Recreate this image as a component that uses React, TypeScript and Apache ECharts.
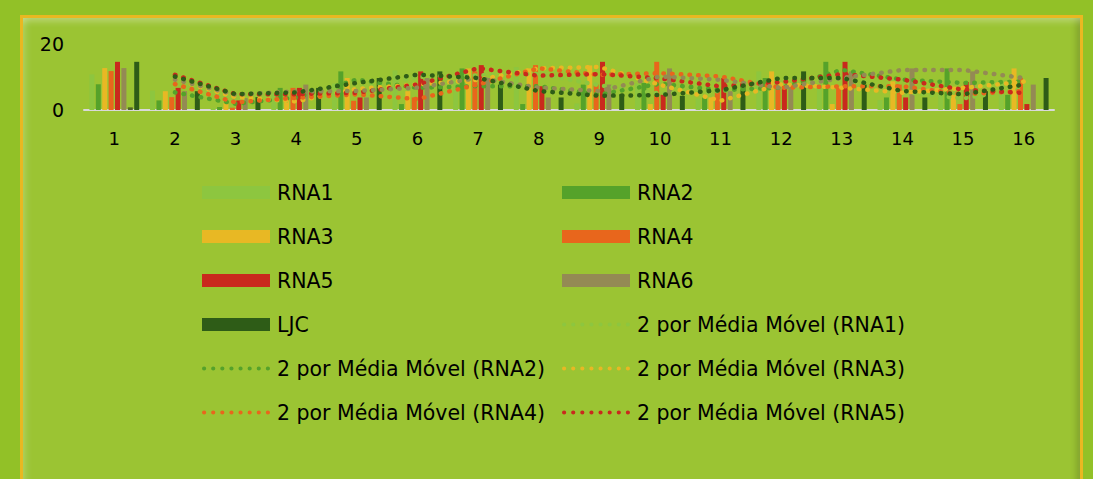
import React, { useEffect, useRef } from 'react';
import * as echarts from 'echarts';

const categories = ['1', '2', '3', '4', '5', '6', '7', '8', '9', '10', '11', '12', '13', '14', '15', '16'];
const rna1 = [10.8, 5.9, 0.5, 5.0, 8.0, 12.0, 9.0, 13.0, 2.0, 8.0, 3.5, 11.7, 8.0, 3.0, 4.0, 9.0];
const rna2 = [7.8, 2.9, 0.9, 6.7, 11.7, 1.8, 12.6, 1.8, 7.7, 8.2, 3.8, 9.7, 14.6, 3.8, 12.6, 4.6];
const rna3 = [12.7, 5.7, 2.1, 3.1, 9.7, 5.7, 12.6, 12.6, 13.5, 1.8, 3.8, 11.7, 1.8, 8.7, 4.6, 12.6];
const rna4 = [11.8, 3.9, 0.7, 6.7, 2.8, 3.8, 11.7, 13.6, 7.7, 14.6, 5.7, 7.7, 6.7, 7.7, 1.8, 9.7];
const rna5 = [14.6, 6.7, 2.9, 6.7, 3.8, 11.7, 13.6, 7.2, 14.6, 4.6, 9.7, 7.2, 14.6, 3.8, 8.5, 1.8];
const rna6 = [12.7, 5.7, 3.6, 7.7, 3.8, 9.7, 9.7, 3.8, 7.7, 12.6, 5.7, 7.7, 11.7, 12.6, 11.7, 7.7];
const rna7 = [0.8, 0, 0, 0, 0, 0, 0, 0, 0, 0, 0, 0, 0, 0, 0, 0];
const ljc = [14.6, 5.7, 3.9, 6.7, 9.7, 11.7, 7.7, 3.8, 4.8, 4.3, 7.7, 11.7, 7.7, 3.8, 5.7, 9.7];
const yTicks = [0, 20];

const barSeries = [
  { name: 'RNA1', data: rna1, color: '#8dc63f' },
  { name: 'RNA2', data: rna2, color: '#55a22a' },
  { name: 'RNA3', data: rna3, color: '#e8b824' },
  { name: 'RNA4', data: rna4, color: '#e8661c' },
  { name: 'RNA5', data: rna5, color: '#c9291d' },
  { name: 'RNA6', data: rna6, color: '#948a54' },
  { name: 'RNA7', data: rna7, color: '#4f6228' },
  { name: 'LJC', data: ljc, color: '#2e5c17' },
];
const maSources = ['RNA1', 'RNA2', 'RNA3', 'RNA4', 'RNA5', 'RNA6', 'LJC'];

// Excel "2 por Média Móvel" trendline (moving average, period 2)
function movingAverage2(arr: number[]) {
  return arr.map((v, i) => (i === 0 ? null : (arr[i - 1] + v) / 2));
}

// legend icon: a row of 8 round dots
function dotsIcon() {
  let d = '';
  for (let k = 0; k < 8; k++) {
    const cx = 2 + k * 8.7;
    d += `M${cx - 2},2a2,2 0 1,0 4,0a2,2 0 1,0 -4,0Z`;
  }
  return 'path://' + d;
}

const FONT = 'DejaVu Sans';
const ma = (n: string) => `2 por Média Móvel (${n})`;

export default function App() {
  const ref = useRef<HTMLDivElement>(null);
  useEffect(() => {
    const chart = echarts.init(ref.current!, null, { renderer: 'svg' });
    const series: any[] = barSeries.map((b) => ({
      name: b.name,
      type: 'bar',
      data: b.data,
      barWidth: 5,
      barGap: '28%',
      itemStyle: { color: b.color },
      z: 2,
    }));
    maSources.forEach((n) => {
      const b = barSeries.find((s) => s.name === n)!;
      series.push({
        name: ma(n),
        type: 'line',
        data: movingAverage2(b.data),
        symbol: 'none',
        showSymbol: false,
        z: 3,
        lineStyle: { color: b.color, width: 4.5, type: [0.5, 8.2], cap: 'round' },
        itemStyle: { color: b.color },
      });
    });
    const icon = dotsIcon();
    const legendBase = {
      orient: 'vertical',
      padding: 0,
      itemWidth: 68,
      itemHeight: 13,
      itemGap: 23,
      selectedMode: false,
      itemStyle: { borderWidth: 0 },
      lineStyle: { width: 0 },
      textStyle: { fontFamily: FONT, fontSize: 20.5, color: '#000', lineHeight: 20, padding: [0, 0, 0, 2] },
    };
    const item = (name: string) =>
      name.startsWith('2 por') ? { name, icon } : { name, icon: 'rect' };
    const option: any = {
      animation: false,
      textStyle: { fontFamily: FONT },
      grid: { left: 84, right: 39, top: 44, height: 66 },
      xAxis: {
        type: 'category',
        data: categories,
        axisLine: { show: true, lineStyle: { color: '#d9d9d9', width: 2 } },
        axisTick: { show: false },
        axisLabel: { fontFamily: FONT, fontSize: 18, color: '#000', margin: 19 },
      },
      yAxis: {
        type: 'value',
        min: yTicks[0],
        max: yTicks[1],
        interval: 20,
        axisLine: { show: false },
        axisTick: { show: false },
        splitLine: { show: false },
        axisLabel: { fontFamily: FONT, fontSize: 19, color: '#000', margin: 20 },
      },
      legend: [
        {
          ...legendBase,
          left: 202,
          top: 182,
          data: ['RNA1', 'RNA3', 'RNA5', 'LJC', ma('RNA2'), ma('RNA4')].map(item),
        },
        {
          ...legendBase,
          left: 562,
          top: 182,
          data: ['RNA2', 'RNA4', 'RNA6', ma('RNA1'), ma('RNA3'), ma('RNA5')].map(item),
        },
      ],
      series,
    };
    chart.setOption(option);
    return () => chart.dispose();
  }, []);

  return (
    <div style={{ position: 'fixed', left: 0, top: 0, width: 1093, height: 479, background: '#92c127', overflow: 'hidden' }}>
      <div
        style={{
          position: 'absolute',
          left: 20,
          top: 15,
          width: 1063,
          height: 490,
          boxSizing: 'border-box',
          border: '3px solid #e9b821',
          background: '#9bc433',
          boxShadow: 'inset 0 7px 7px -4px rgba(255,255,255,0.35), inset 7px 0 7px -4px rgba(255,255,255,0.2), inset -7px 0 7px -4px rgba(0,0,0,0.2)',
        }}
      />
      <div ref={ref} style={{ position: 'absolute', left: 0, top: 0, width: 1093, height: 479 }} />
    </div>
  );
}
